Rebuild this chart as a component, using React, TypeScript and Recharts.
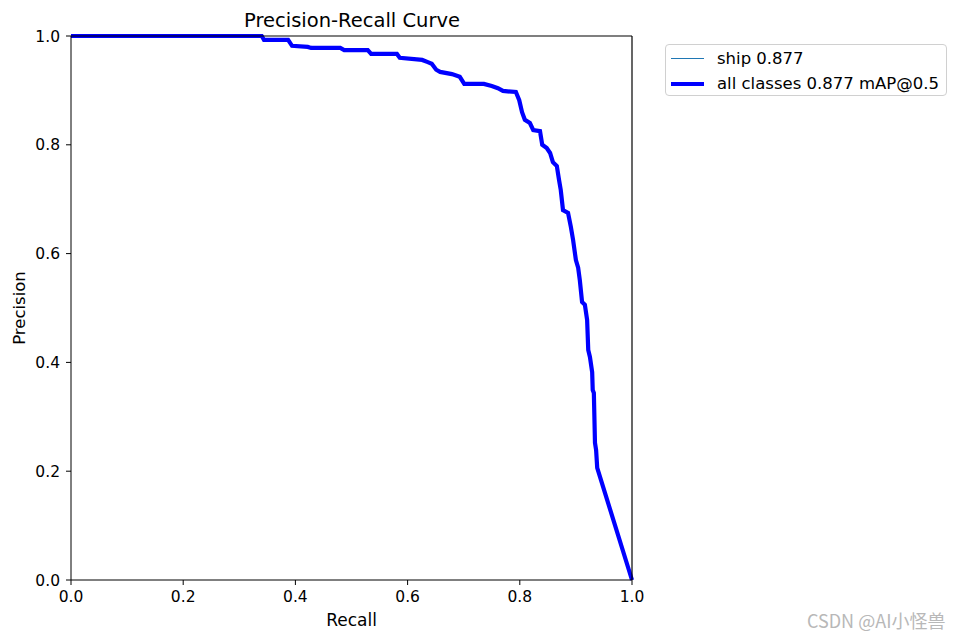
import React from 'react';
import { LineChart, Line, XAxis, YAxis, ReferenceLine } from 'recharts';

const recall = [
  0, 0.34, 0.344, 0.387, 0.394, 0.422, 0.428, 0.48, 0.487, 0.529, 0.535, 0.581, 0.586, 0.626, 0.636, 0.643,
  0.651, 0.658, 0.679, 0.693, 0.701, 0.736, 0.75, 0.761, 0.77, 0.793, 0.799, 0.804, 0.809, 0.818, 0.824,
  0.836, 0.84, 0.848, 0.854, 0.859, 0.866, 0.87, 0.873, 0.877, 0.886, 0.891, 0.895, 0.9, 0.904, 0.907,
  0.911, 0.916, 0.92, 0.922, 0.925, 0.929, 0.93, 0.932, 0.934, 0.936, 0.938, 1.0,
];
const precision = [
  1.0, 1.0, 0.993, 0.993, 0.982, 0.98, 0.978, 0.978, 0.974, 0.974, 0.967, 0.967, 0.96, 0.956, 0.952, 0.949,
  0.938, 0.934, 0.93, 0.925, 0.912, 0.912, 0.908, 0.904, 0.899, 0.897, 0.882, 0.86, 0.846, 0.84, 0.827,
  0.825, 0.8, 0.794, 0.785, 0.768, 0.761, 0.735, 0.717, 0.68, 0.675, 0.649, 0.625, 0.588, 0.574, 0.551,
  0.511, 0.506, 0.478, 0.423, 0.41, 0.382, 0.349, 0.344, 0.252, 0.239, 0.206, 0.0,
];
const ticks = [0, 0.2, 0.4, 0.6, 0.8, 1.0];
const seriesNames = ['ship 0.877', 'all classes 0.877 mAP@0.5'];

const data = recall.map((r, i) => ({ recall: r, ship: precision[i], all: precision[i] }));

const font = 'DejaVu Sans, sans-serif';
const tickStyle = { fontSize: 15.5, fill: '#000', fontFamily: font };

function LegendBox() {
  return (
    <div style={{ position: 'absolute', left: 665, top: 44, width: 282, height: 52, boxSizing: 'border-box', border: '1px solid #d0d0d0', borderRadius: 4, background: '#fff', padding: '1px 0 0 5px', fontFamily: font, fontSize: 16.5 }}>
      {seriesNames.map((n, i) => (
        <div key={n} style={{ display: 'flex', alignItems: 'center', height: 25 }}>
          <div style={{ width: 33, height: i === 0 ? 1.5 : 4, background: i === 0 ? '#1f77b4' : '#0000ff', marginRight: 13 }} />
          <span>{n}</span>
        </div>
      ))}
    </div>
  );
}

export default function App() {
  return (
    <div style={{ position: 'absolute', left: 0, top: 0, width: 953, height: 636, background: '#fff', fontFamily: font }}>
      <LineChart width={953} height={636} data={data} margin={{ top: 36, right: 321, bottom: 16, left: 11 }}>
        <XAxis
          type="number"
          dataKey="recall"
          domain={[0, 1]}
          ticks={ticks}
          tickFormatter={(v: number) => v.toFixed(1)}
          tick={tickStyle}
          tickSize={5}
          tickMargin={6}
          stroke="#000"
          height={40}
          label={{ value: 'Recall', position: 'insideBottom', offset: -6, style: { fontSize: 17, fill: '#000', fontFamily: font } }}
        />
        <YAxis
          type="number"
          domain={[0, 1]}
          ticks={ticks}
          tickFormatter={(v: number) => v.toFixed(1)}
          tick={tickStyle}
          tickSize={5}
          tickMargin={6}
          stroke="#000"
          width={60}
          label={{ value: 'Precision', angle: -90, position: 'insideLeft', offset: 8, style: { fontSize: 16.5, fill: '#000', fontFamily: font, textAnchor: 'middle' } }}
        />
        <Line dataKey="ship" type="linear" stroke="#1f77b4" strokeWidth={1} dot={false} isAnimationActive={false} />
        <Line dataKey="all" type="linear" stroke="#0000ff" strokeWidth={4.2} dot={false} isAnimationActive={false} />
        <ReferenceLine y={1} stroke="#000" strokeWidth={1.2} />
        <ReferenceLine x={1} stroke="#000" strokeWidth={1.2} />
        <text x={352} y={27} textAnchor="middle" fontSize={19.5} fontFamily={font} fill="#000">
          Precision-Recall Curve
        </text>
      </LineChart>
      <LegendBox />
      <span style={{ position: 'absolute', left: 807, top: 607, fontSize: 18, color: '#b8b8b8', fontFamily: 'Noto Sans CJK SC, sans-serif' }}>
        CSDN @AI小怪兽
      </span>
    </div>
  );
}
